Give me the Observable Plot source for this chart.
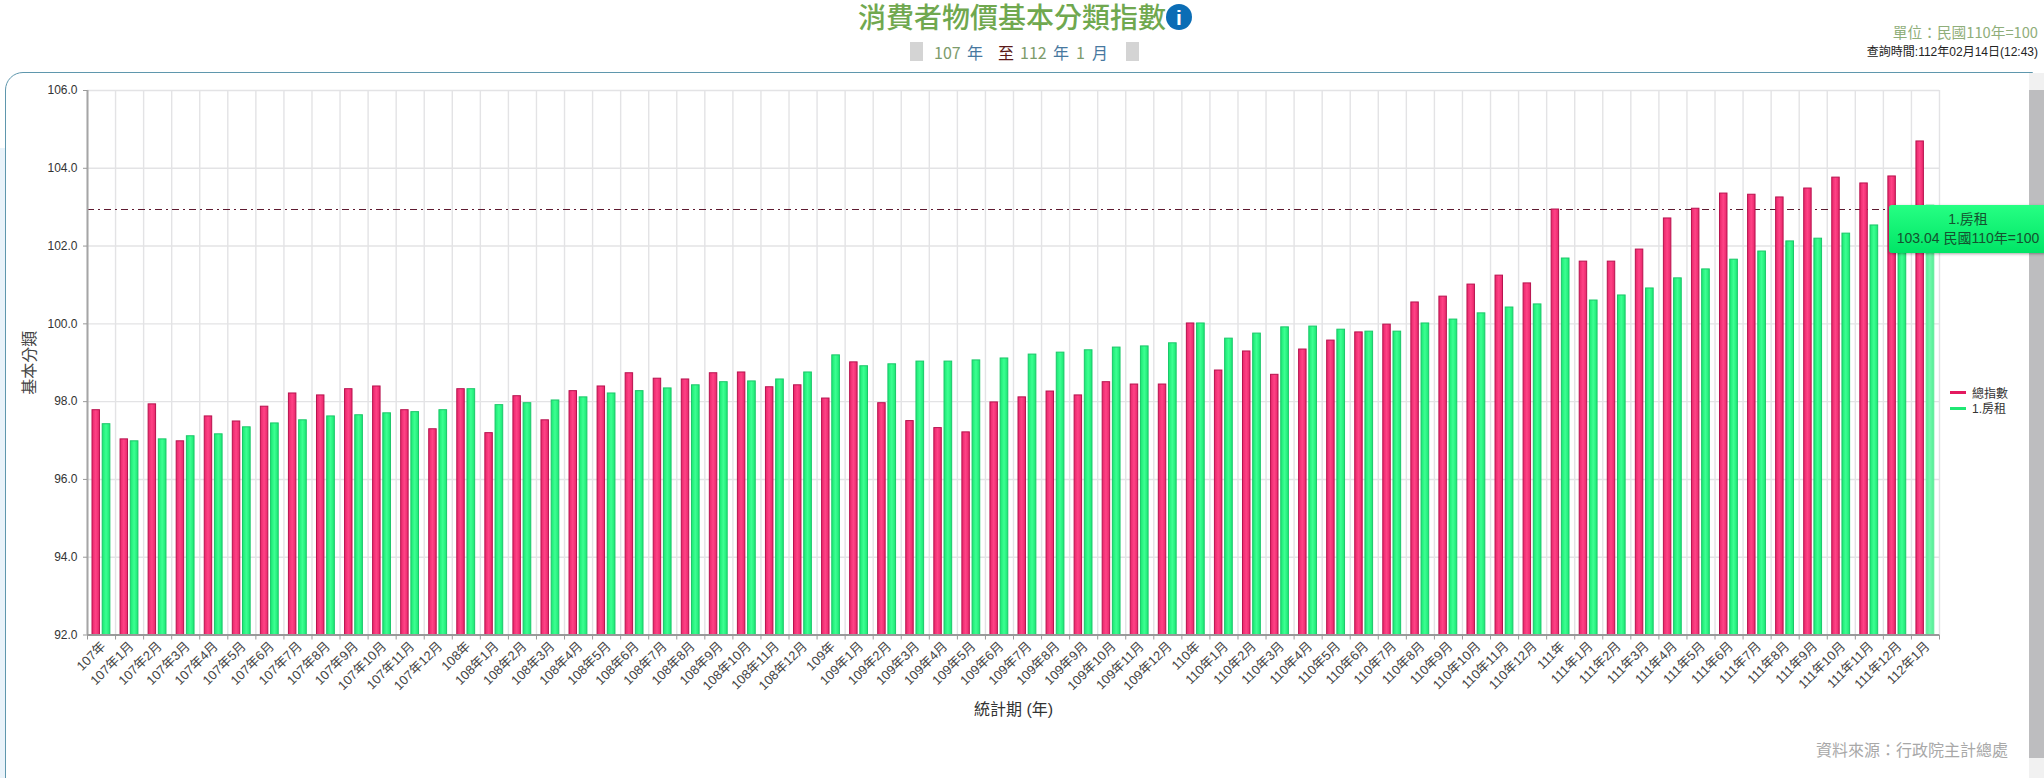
<!DOCTYPE html>
<html lang="zh-Hant">
<head>
<meta charset="utf-8">
<script src="https://cdn.jsdelivr.net/npm/d3@7"></script>
<script src="https://cdn.jsdelivr.net/npm/@observablehq/plot@0.6"></script>
<style>
html,body{margin:0;padding:0;background:#fff;overflow:hidden;width:2044px;height:778px;}
body{font-family:"Liberation Sans","Noto Sans CJK TC",sans-serif;position:relative;}
.a{position:absolute;white-space:nowrap;line-height:1;}
#chart{position:absolute;left:0;top:0;}
#chart svg{display:block;background:transparent;}
#panel{position:absolute;left:5px;top:72px;width:2028px;height:760px;border:1.5px solid #5f97ad;border-radius:18px 0 0 0;box-sizing:border-box;}
#shade{position:absolute;left:0;top:148px;width:5px;height:630px;background:#e9f3fa;}
.sub{font-size:16px;top:44px;font-family:"Noto Sans CJK TC","Liberation Sans",sans-serif;}
#tip{position:absolute;left:1889px;top:205px;width:158px;height:48px;border-radius:3px;background:linear-gradient(#26ff83,#00e566);box-shadow:0 1px 3px rgba(0,0,0,.35);color:#14522f;font-size:14px;text-align:center;line-height:19px;padding-top:5px;box-sizing:border-box;font-family:"Liberation Sans","Noto Sans CJK TC",sans-serif;}
#sb{position:absolute;left:2029px;top:73px;width:15px;height:705px;background:#f1f1f1;}
#thumb{position:absolute;left:0;top:17px;width:15px;height:668px;background:#bdbdbf;}
</style>
</head>
<body>
<div id="shade"></div>
<div id="panel"></div>
<div id="chart"></div>

<div class="a" style="left:858px;top:2px;font-size:28px;color:#70a84f;font-weight:500;font-family:'Noto Sans CJK TC',sans-serif;letter-spacing:0;">消費者物價基本分類指數</div>
<div class="a" style="left:1166px;top:4px;width:26px;height:26px;border-radius:50%;background:#0b6db5;color:#fff;font:bold 21px/27px 'Liberation Sans',sans-serif;text-align:center;">i</div>

<div class="a" style="left:910px;top:42px;width:13px;height:19px;background:#d4d4d4;"></div>
<div class="a sub" style="left:934px;color:#7d9c6c;">107</div>
<div class="a sub" style="left:967px;color:#47789f;">年</div>
<div class="a sub" style="left:998px;color:#5b1a1a;">至</div>
<div class="a sub" style="left:1020px;color:#7d9c6c;">112</div>
<div class="a sub" style="left:1053px;color:#47789f;">年</div>
<div class="a sub" style="left:1076px;color:#7d9c6c;">1</div>
<div class="a sub" style="left:1092px;color:#47789f;">月</div>
<div class="a" style="left:1126px;top:42px;width:13px;height:19px;background:#d4d4d4;"></div>

<div class="a" style="right:6px;top:24.5px;font-size:14.7px;color:#8fae7a;font-family:'Noto Sans CJK TC','Liberation Sans',sans-serif;">單位：民國110年=100</div>
<div class="a" style="right:6px;top:46px;font-size:12px;color:#222;font-family:'Liberation Sans','Noto Sans CJK TC',sans-serif;">查詢時間:112年02月14日(12:43)</div>

<div id="sb"><div id="thumb"></div></div>

<div class="a" style="left:1950px;top:390.5px;width:16px;height:3.5px;background:#e3195f;"></div>
<div class="a" style="left:1972px;top:388px;font-size:12px;color:#333;">總指數</div>
<div class="a" style="left:1950px;top:406.5px;width:16px;height:3.5px;background:#1fe874;"></div>
<div class="a" style="left:1972px;top:403px;font-size:12px;color:#333;">1.房租</div>

<div class="a" style="left:1816px;top:741px;font-size:16px;color:#a8a8a8;font-family:'Noto Sans CJK TC',sans-serif;">資料來源：行政院主計總處</div>

<div id="tip">1.房租<br>103.04 民國110年=100</div>

<script>
const periods = [
  "107年","107年1月","107年2月","107年3月","107年4月","107年5月","107年6月","107年7月","107年8月","107年9月","107年10月","107年11月","107年12月",
  "108年","108年1月","108年2月","108年3月","108年4月","108年5月","108年6月","108年7月","108年8月","108年9月","108年10月","108年11月","108年12月",
  "109年","109年1月","109年2月","109年3月","109年4月","109年5月","109年6月","109年7月","109年8月","109年9月","109年10月","109年11月","109年12月",
  "110年","110年1月","110年2月","110年3月","110年4月","110年5月","110年6月","110年7月","110年8月","110年9月","110年10月","110年11月","110年12月",
  "111年","111年1月","111年2月","111年3月","111年4月","111年5月","111年6月","111年7月","111年8月","111年9月","111年10月","111年11月","111年12月",
  "112年1月"
];
const totalIndex = [
  97.78,97.03,97.93,96.98,97.62,97.49,97.87,98.21,98.16,98.32,98.39,97.78,97.29,
  98.32,97.19,98.14,97.52,98.27,98.39,98.73,98.59,98.57,98.73,98.75,98.37,98.42,
  98.08,99.01,97.96,97.50,97.32,97.21,97.98,98.11,98.26,98.16,98.50,98.44,98.44,
  100.01,98.80,99.29,98.69,99.34,99.57,99.78,99.98,100.55,100.70,101.01,101.24,101.04,
  102.94,101.60,101.60,101.91,102.71,102.96,103.35,103.32,103.25,103.48,103.76,103.61,103.79,
  104.69
];
const rentIndex = [
  97.42,96.98,97.03,97.11,97.16,97.34,97.44,97.52,97.62,97.65,97.70,97.73,97.78,
  98.32,97.91,97.96,98.03,98.11,98.21,98.27,98.34,98.42,98.50,98.52,98.57,98.75,
  99.19,98.91,98.96,99.03,99.03,99.06,99.11,99.21,99.26,99.32,99.39,99.42,99.50,
  100.01,99.62,99.75,99.91,99.93,99.85,99.80,99.80,100.01,100.11,100.27,100.42,100.50,
  101.68,100.60,100.73,100.91,101.17,101.40,101.65,101.86,102.12,102.19,102.32,102.53,102.78,
  103.04
];
const yTicks = [92,94,96,98,100,102,104,106];
const referenceValue = 102.94;
const baseValue = 92;

const edges = d3.range(periods.length + 1);
const centers = periods.map((_, i) => i + 0.5);
const lastIndex = periods.length - 1;

function gradient(id, edge, mid) {
  return `<linearGradient id="${id}" x1="0" x2="1" y1="0" y2="0">
    <stop offset="0" stop-color="${edge}"/><stop offset="0.5" stop-color="${mid}"/><stop offset="1" stop-color="${edge}"/>
  </linearGradient>`;
}
const defs = () => {
  const g = document.createElementNS("http://www.w3.org/2000/svg", "defs");
  g.innerHTML = gradient("gp", "#e8266a", "#ff4286") + gradient("gg", "#1ae872", "#3cff92") + gradient("gl", "#55ee95", "#70f8ab");
  return g;
};

const chart = Plot.plot({
  width: 2044, height: 778,
  marginTop: 90, marginBottom: 143.5, marginLeft: 87, marginRight: 105,
  style: {background: "transparent", fontFamily: '"Liberation Sans","Noto Sans CJK TC",sans-serif', fontSize: "12px", color: "#333"},
  x: {type: "linear", domain: [0, periods.length]},
  y: {domain: [92, 106]},
  marks: [
    defs,
    Plot.gridY(yTicks, {stroke: "#e3e3e5", strokeOpacity: 1, strokeWidth: 1.4}),
    Plot.ruleX(edges, {stroke: "#e3e3e5", strokeOpacity: 1, strokeWidth: 1.4}),
    Plot.ruleY([referenceValue], {stroke: "#5e1a30", strokeWidth: 1.2, strokeDasharray: "7 4 2 4"}),
    Plot.rectY(totalIndex, {
      x1: (d, i) => i, x2: (d, i) => i + 1, y1: baseValue, y2: d => d,
      insetLeft: 5, insetRight: 15.6,
      fill: "url(#gp)", stroke: "#b8124e", strokeWidth: 1
    }),
    Plot.rectY(rentIndex, {
      x1: (d, i) => i, x2: (d, i) => i + 1, y1: baseValue, y2: d => d,
      insetLeft: 15.2, insetRight: 5.2,
      fill: (d, i) => i === lastIndex ? "url(#gl)" : "url(#gg)",
      stroke: (d, i) => i === lastIndex ? "#63ea9c" : "#1bc76a", strokeWidth: 1
    }),
    Plot.ruleX([0], {stroke: "#a5a5a5", strokeWidth: 2}),
    Plot.ruleY([92], {stroke: "#999", strokeWidth: 2}),
    Plot.axisY({ticks: yTicks, tickFormat: d3.format(".1f"), tickSize: 4, tickPadding: 6, stroke: "#999", color: "#333", label: null, fontSize: 12}),
    Plot.axisY({ticks: [], tickSize: 0, label: "基本分類", labelAnchor: "center", labelArrow: "none", labelOffset: 64, fontSize: 16, color: "#444"}),
    Plot.axisX({ticks: edges, tickFormat: null, tickSize: 5, text: null, stroke: "#999", label: null}),
    Plot.axisX({ticks: centers, tickFormat: d => periods[d - 0.5], tickSize: 0, tickPadding: 9, tickRotate: -45, textAnchor: "end", dx: 2, color: "#444", label: null, fontSize: 13}),
    Plot.axisX({ticks: [], tickSize: 0, label: "統計期 (年)", labelAnchor: "center", labelArrow: "none", labelOffset: 80, fontSize: 16, color: "#333"})
  ]
});
document.getElementById("chart").appendChild(chart);
</script>
</body>
</html>
